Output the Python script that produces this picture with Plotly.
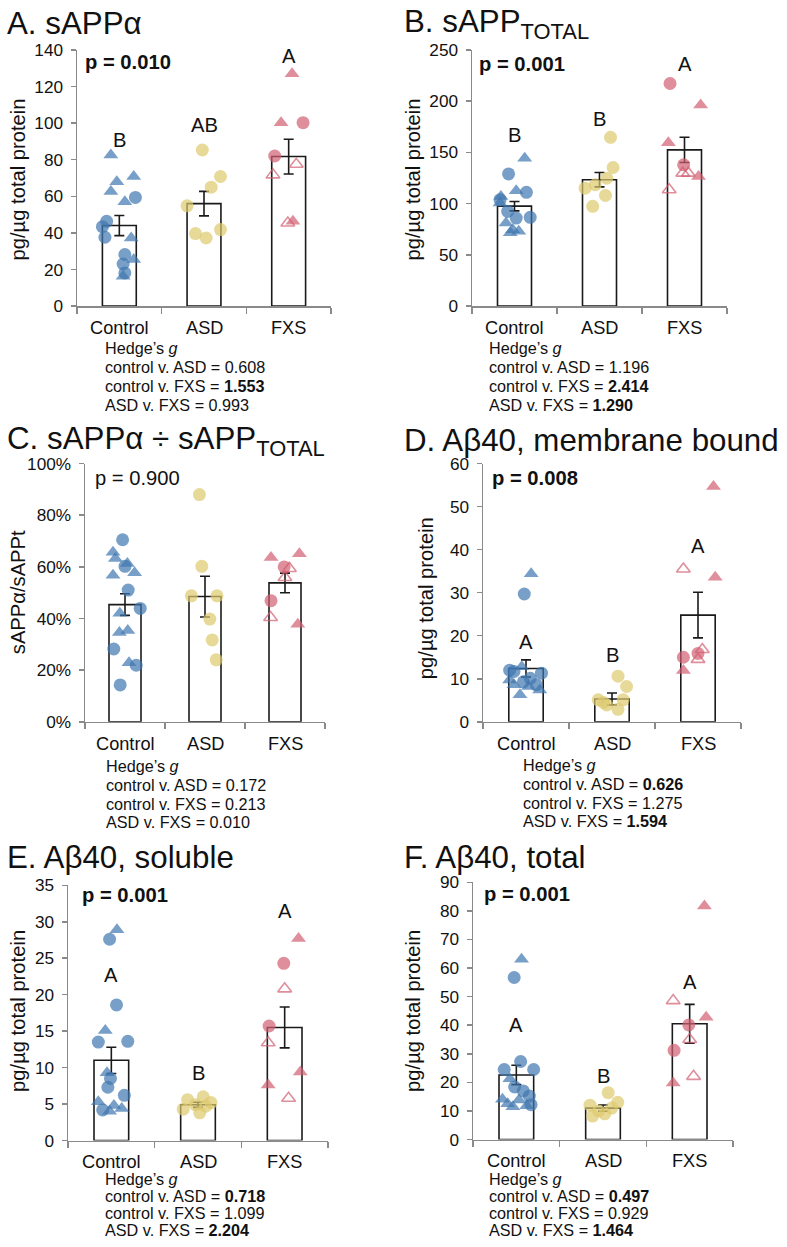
import plotly.graph_objects as go

W, H = 787, 1247
FONT = "Liberation Sans, Arial, Helvetica, sans-serif"
BLUE = "#3E76AF"
YELLOW = "#DDC96C"
RED = "#D15E70"
AXIS = "#8A8A8A"

categories = ["Control", "ASD", "FXS"]

# ---------------- Panel A: sAPPα ----------------
a_ctrl = [82.6, 68, 70.8, 62.6, 59.4, 57, 46.3, 43.4, 37.6, 37.2, 28.2, 25.4, 23, 18.1, 16.3]
a_ctrl_sym = "TTTTCTCCCTCTCCT"
a_ctrl_jit = [-0.10, -0.03, 0.17, -0.10, 0.19, 0.065, -0.15, -0.2, -0.17, 0.14, 0.065, 0.17, 0.045, 0.065, 0.045]
a_asd = [85.3, 70.8, 65, 54.8, 41.8, 39.6, 37.2]
a_asd_sym = "CCCCCCC"
a_asd_jit = [-0.02, 0.195, 0.085, -0.2, 0.195, -0.1, 0.025]
a_fxs = [127, 100.2, 100.2, 82, 77.5, 71.7, 46.3, 45.4]
a_fxs_sym = "TTCCOOTO"
a_fxs_jit = [0.04, -0.09, 0.17, -0.165, 0.09, -0.185, 0.05, -0.01]
a_mean = [44, 56, 81.7]
a_sem = [5.5, 6.7, 9.5]
a_letters = ["B", "AB", "A"]
a_letter_y = [91, 99, 136.7]
a_p = "<b>p = 0.010</b>"
a_hedge = ["0.608", "<b>1.553</b>", "0.993"]

# ---------------- Panel B: sAPP total ----------------
b_ctrl = [144.3, 129, 111, 112.5, 107, 103.8, 100.5, 92.4, 86.6, 85.9, 81, 74.6, 73, 71.5]
b_ctrl_sym = "TCCTTCTCCCTTTT"
b_ctrl_jit = [0.12, -0.07, 0.14, 0.02, -0.16, -0.17, -0.17, -0.08, 0.185, 0.02, -0.1, -0.02, 0.05, -0.05]
b_asd = [164.7, 135.2, 124.8, 118.4, 115.1, 108, 97.3]
b_asd_sym = "CCCCCCC"
b_asd_jit = [0.13, 0.16, 0.085, -0.05, -0.17, 0.07, -0.08]
b_fxs = [217.2, 196.2, 159.5, 137.8, 129.7, 129.7, 126.5, 113.5]
b_fxs_sym = "CTTCOOTO"
b_fxs_jit = [-0.17, 0.19, -0.19, -0.01, -0.02, 0.045, 0.165, -0.18]
b_mean = [97.5, 123.3, 152.4]
b_sem = [4.6, 7, 12.3]
b_letters = ["B", "B", "A"]
b_letter_y = [167, 183, 236.7]
b_p = "<b>p = 0.001</b>"
b_hedge = ["1.196", "<b>2.414</b>", "<b>1.290</b>"]

# ---------------- Panel C: ratio ----------------
c_ctrl = [0.705, 0.657, 0.632, 0.602, 0.613, 0.568, 0.577, 0.51, 0.439, 0.42, 0.346, 0.354, 0.282, 0.229, 0.219, 0.143]
c_ctrl_sym = "CTTCTTTCCTTTCTCC"
c_ctrl_jit = [-0.03, -0.15, -0.12, 0, 0.03, -0.15, 0.12, 0.04, 0.19, -0.065, -0.07, 0.035, -0.14, 0.05, 0.14, -0.06]
c_asd = [0.88, 0.602, 0.488, 0.488, 0.398, 0.317, 0.24]
c_asd_sym = "CCCCCCC"
c_asd_jit = [-0.07, -0.04, -0.17, 0.15, 0.06, 0.09, 0.14]
c_fxs = [0.636, 0.651, 0.60, 0.594, 0.559, 0.469, 0.404, 0.378]
c_fxs_sym = "TTCOOCOT"
c_fxs_jit = [-0.175, 0.18, -0.01, 0.055, 0, -0.175, -0.18, 0.16]
c_mean = [0.454, 0.485, 0.538]
c_sem = [0.042, 0.079, 0.038]
c_letters = ["", "", ""]
c_letter_y = [0, 0, 0]
c_p = "p = 0.900"
c_hedge = ["0.172", "0.213", "0.010"]

# ---------------- Panel D: Aβ40 membrane bound ----------------
d_ctrl = [34.4, 29.7, 11.7, 12.8, 11.3, 10.1, 8.6, 8.6, 6.3, 9.7, 8.2, 9.3, 7.4, 12.0]
d_ctrl_sym = "TCCTCCTCTTTCTC"
d_ctrl_jit = [0.06, -0.02, -0.14, -0.05, 0.18, 0.05, -0.14, 0.12, -0.07, -0.19, 0.03, -0.03, 0.16, -0.19]
d_asd = [10.6, 8.2, 5.1, 3.9, 2.9, 5.1, 4.5]
d_asd_sym = "CCCCCCC"
d_asd_jit = [0.07, 0.17, -0.16, -0.06, 0.07, 0.13, -0.1]
d_fxs = [54.7, 35.5, 33.6, 15, 15.9, 16.8, 14.5, 11.9]
d_fxs_sym = "TOTCCOOT"
d_fxs_jit = [0.18, -0.17, 0.2, -0.17, 0, 0.05, 0, -0.17]
d_mean = [12.4, 5.3, 24.8]
d_sem = [2.0, 1.4, 5.3]
d_letters = ["A", "B", "A"]
d_letter_y = [18.6, 15.5, 40.8]
d_p = "<b>p = 0.008</b>"
d_hedge = ["<b>0.626</b>", "1.275", "<b>1.594</b>"]

# ---------------- Panel E: Aβ40 soluble ----------------
e_ctrl = [28.9, 27.6, 18.6, 15.1, 13.5, 13.6, 9.3, 8.5, 7.3, 6.2, 5.3, 4.8, 4.4, 4.2, 4.0]
e_ctrl_sym = "TCCTCCTCCCTTTCT"
e_ctrl_jit = [0.065, -0.02, 0.06, -0.07, -0.15, 0.19, -0.05, -0.01, -0.04, 0.15, -0.15, 0.03, 0.12, -0.1, -0.02]
e_asd = [6.0, 5.6, 5.2, 4.9, 4.7, 4.3, 3.8]
e_asd_sym = "CCCCCCC"
e_asd_jit = [0.06, -0.12, 0.15, -0.03, 0.09, -0.17, 0.02]
e_fxs = [27.7, 24.3, 20.8, 15.7, 13.4, 9.4, 7.6, 5.8]
e_fxs_sym = "TCOCOTTO"
e_fxs_jit = [0.16, -0.01, 0, -0.18, -0.19, 0.18, -0.19, 0.045]
e_mean = [11.0, 4.9, 15.5]
e_sem = [1.8, 0.35, 2.8]
e_letters = ["A", "B", "A"]
e_letter_y = [22.7, 9.2, 31.5]
e_p = "<b>p = 0.001</b>"
e_hedge = ["<b>0.718</b>", "1.099", "<b>2.204</b>"]

# ---------------- Panel F: Aβ40 total ----------------
f_ctrl = [63.1, 56.7, 27.3, 24.5, 24.5, 21.3, 18.4, 15.2, 14.1, 13.8, 12.5, 11.8, 17.0, 11.5, 12.2]
f_ctrl_sym = "TCCCCTCCTTTTCTC"
f_ctrl_jit = [0.06, -0.025, 0.05, -0.14, 0.2, -0.075, -0.02, 0.15, -0.16, 0.03, -0.1, 0.12, 0.08, -0.04, 0.17]
f_asd = [16.4, 13.0, 12.0, 11.0, 10.0, 9.0, 8.2]
f_asd_sym = "CCCCCCC"
f_asd_jit = [0.06, 0.17, -0.15, 0.1, -0.05, 0.02, -0.12]
f_fxs = [81.7, 48.6, 42.8, 40.1, 35, 31.2, 22.1, 19.8]
f_fxs_sym = "TOTCOCOT"
f_fxs_jit = [0.17, -0.19, 0.19, -0.01, 0, -0.18, 0.045, -0.19]
f_mean = [22.6, 11.0, 40.5]
f_sem = [3.4, 1.1, 6.8]
f_letters = ["A", "B", "A"]
f_letter_y = [39.9, 22.2, 55.2]
f_p = "<b>p = 0.001</b>"
f_hedge = ["<b>0.497</b>", "0.929", "<b>1.464</b>"]

titles = ["A. sAPPα", "B. sAPP<sub>TOTAL</sub>", "C. sAPPα ÷ sAPP<sub>TOTAL</sub>",
          "D. Aβ40, membrane bound", "E. Aβ40, soluble", "F. Aβ40, total"]
ytitles = ["pg/µg total protein", "pg/µg total protein", "sAPPα/sAPPt",
           "pg/µg total protein", "pg/µg total protein", "pg/µg total protein"]
yranges = [(0, 140, 20), (0, 250, 50), (0, 1, 0.2), (0, 60, 10), (0, 35, 5), (0, 90, 10)]

panels = [
    dict(groups=[(a_ctrl, a_ctrl_sym, a_ctrl_jit), (a_asd, a_asd_sym, a_asd_jit), (a_fxs, a_fxs_sym, a_fxs_jit)],
         mean=a_mean, sem=a_sem, letters=a_letters, letter_y=a_letter_y, p=a_p, hedge=a_hedge),
    dict(groups=[(b_ctrl, b_ctrl_sym, b_ctrl_jit), (b_asd, b_asd_sym, b_asd_jit), (b_fxs, b_fxs_sym, b_fxs_jit)],
         mean=b_mean, sem=b_sem, letters=b_letters, letter_y=b_letter_y, p=b_p, hedge=b_hedge),
    dict(groups=[(c_ctrl, c_ctrl_sym, c_ctrl_jit), (c_asd, c_asd_sym, c_asd_jit), (c_fxs, c_fxs_sym, c_fxs_jit)],
         mean=c_mean, sem=c_sem, letters=c_letters, letter_y=c_letter_y, p=c_p, hedge=c_hedge),
    dict(groups=[(d_ctrl, d_ctrl_sym, d_ctrl_jit), (d_asd, d_asd_sym, d_asd_jit), (d_fxs, d_fxs_sym, d_fxs_jit)],
         mean=d_mean, sem=d_sem, letters=d_letters, letter_y=d_letter_y, p=d_p, hedge=d_hedge),
    dict(groups=[(e_ctrl, e_ctrl_sym, e_ctrl_jit), (e_asd, e_asd_sym, e_asd_jit), (e_fxs, e_fxs_sym, e_fxs_jit)],
         mean=e_mean, sem=e_sem, letters=e_letters, letter_y=e_letter_y, p=e_p, hedge=e_hedge),
    dict(groups=[(f_ctrl, f_ctrl_sym, f_ctrl_jit), (f_asd, f_asd_sym, f_asd_jit), (f_fxs, f_fxs_sym, f_fxs_jit)],
         mean=f_mean, sem=f_sem, letters=f_letters, letter_y=f_letter_y, p=f_p, hedge=f_hedge),
]

# ---------------- layout geometry (target pixels in the picture) ----------------
# plot boxes: (x0, x1, ytop, ybottom)
boxes = [(77, 331, 48, 305), (472, 727, 48, 305),
         (85, 325, 463, 722), (483, 741, 463, 722),
         (68, 328, 886, 1142), (473, 733, 883, 1141)]
title_pos = [(5, 22), (402, 22), (5, 440), (402, 440), (5, 858), (402, 858)]
ytitle_pos = [(18, 178), (413, 178), (18, 592), (426, 598), (18, 1012), (413, 1012)]
p_pos = [(83, 60), (477, 62), (93, 477), (490, 477), (80, 896), (482, 895)]
hedge_pos = [(103, 347), (487, 347), (104, 766), (521, 765), (103, 1181), (487, 1181)]
hedge_step = [19, 19, 19, 19, 17, 17]
CAT_GAP = 22

# the photographed page shows the figure slightly inset vertically; compensate
OY, SY = 8.0, 0.987
FS = 1 / 0.99


def px(x):
    return min(max(x, 0), W) / W


def py(y):
    v = (y - OY) / SY
    return 1 - min(max(v, 0), H - 7) / H


def fs(s):
    return round(s * FS, 1)


colors = [BLUE, YELLOW, RED]
symmap = {"C": "circle", "T": "triangle-up", "O": "triangle-up-open"}
sizemap = {"C": 13, "T": 13, "O": 12}

fig = go.Figure()
layout = dict(width=W, height=H, margin=dict(l=0, r=0, t=0, b=0),
              paper_bgcolor="white", plot_bgcolor="white", showlegend=False,
              font=dict(family=FONT, color="#111"))
annotations = []

for i, pan in enumerate(panels):
    n = i + 1
    xa = "x" if n == 1 else f"x{n}"
    ya = "y" if n == 1 else f"y{n}"
    xk = "xaxis" if n == 1 else f"xaxis{n}"
    yk = "yaxis" if n == 1 else f"yaxis{n}"
    x0, x1, yt, yb = boxes[i]
    lo, hi, dt = yranges[i]

    fig.add_trace(go.Bar(
        x=[0, 1, 2], y=pan["mean"], width=0.4, xaxis=xa, yaxis=ya,
        marker=dict(color="white", line=dict(color="#1a1a1a", width=1.6)),
        error_y=dict(type="data", array=pan["sem"], color="#1a1a1a", thickness=1.6, width=5),
    ))
    for g, (vals, syms, jit) in enumerate(pan["groups"]):
        fig.add_trace(go.Scatter(
            x=[g + j for j in jit], y=vals, mode="markers", xaxis=xa, yaxis=ya,
            marker=dict(symbol=[symmap[s] for s in syms], size=[sizemap[s] for s in syms],
                        color=colors[g],
                        line=dict(color=colors[g], width=[1.6 if s == "O" else 0 for s in syms])),
            cliponaxis=False,
        ))

    layout[xk] = dict(domain=[px(x0), px(x1)], anchor=ya, range=[-0.5, 2.5],
                      showline=True, linecolor=AXIS, linewidth=1.5,
                      tickmode="linear", tick0=-0.5, dtick=1, ticks="outside",
                      ticklen=6, tickcolor=AXIS, tickwidth=1.5, showticklabels=False,
                      showgrid=False, zeroline=False, fixedrange=True)
    ydict = dict(domain=[py(yb), py(yt)], anchor=xa, range=[lo, hi], tick0=lo, dtick=dt,
                 showline=True, linecolor=AXIS, linewidth=1.5,
                 ticks="outside", ticklen=5, tickcolor=AXIS, tickwidth=1.5,
                 tickfont=dict(size=fs(17), family=FONT, color="#111"), ticklabelstandoff=4,
                 showgrid=False, zeroline=False, fixedrange=True)
    if i == 2:
        ydict["tickformat"] = ".0%"
    layout[yk] = ydict

    # category labels
    for g, cat in enumerate(categories):
        annotations.append(dict(text=cat, x=g, y=py(yb + CAT_GAP), xref=xa, yref="paper",
                                xanchor="center", yanchor="middle", showarrow=False,
                                font=dict(size=fs(18), family=FONT, color="#111")))
    # panel title
    tx, ty = title_pos[i]
    annotations.append(dict(text=titles[i], x=px(tx), y=py(ty), xref="paper", yref="paper",
                            xanchor="left", yanchor="middle", showarrow=False,
                            font=dict(size=fs(31), family=FONT, color="#111")))
    # y title
    yx, yy = ytitle_pos[i]
    annotations.append(dict(text=ytitles[i], x=px(yx), y=py(yy), xref="paper", yref="paper",
                            xanchor="center", yanchor="middle", textangle=-90, showarrow=False,
                            font=dict(size=fs(20), family=FONT, color="#111")))
    # p value
    pxx, pyy = p_pos[i]
    annotations.append(dict(text=pan["p"], x=px(pxx), y=py(pyy), xref="paper", yref="paper",
                            xanchor="left", yanchor="middle", showarrow=False,
                            font=dict(size=fs(20), family=FONT, color="#111")))
    # letters
    for g, (lt, ly) in enumerate(zip(pan["letters"], pan["letter_y"])):
        if lt:
            annotations.append(dict(text=lt, x=g, y=ly, xref=xa, yref=ya, showarrow=False,
                                    xanchor="center", yanchor="middle",
                                    font=dict(size=fs(20), family=FONT, color="#111")))
    # Hedge's g block
    hx, hy = hedge_pos[i]
    lines = ["Hedge’s <i>g</i>",
             "control v. ASD = " + pan["hedge"][0],
             "control v. FXS = " + pan["hedge"][1],
             "ASD v. FXS = " + pan["hedge"][2]]
    for k, ln in enumerate(lines):
        annotations.append(dict(text=ln, x=px(hx), y=py(hy + k * hedge_step[i]), xref="paper", yref="paper",
                                xanchor="left", yanchor="middle", showarrow=False,
                                font=dict(size=fs(16), family=FONT, color="#111")))

layout["annotations"] = annotations
fig.update_layout(**layout)
fig.write_html(
    "out.html",
    config={"displayModeBar": False, "staticPlot": True},
    post_script=(
        "document.documentElement.style.margin='0px';"
        "document.documentElement.style.padding='0px';"
        "document.documentElement.style.overflow='hidden';"
        "document.body.style.margin='0px';document.body.style.padding='0px';"
        "document.body.style.overflow='hidden';"
        "var d=document.getElementById('{plot_id}');"
        "d.style.position='absolute';d.style.left='0px';d.style.top='0px';"
    ),
)
